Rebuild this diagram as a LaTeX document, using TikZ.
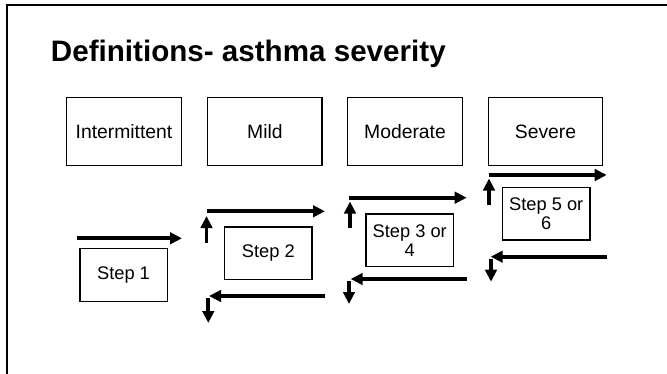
\documentclass[tikz,border=0pt]{standalone}
\usepackage{fontspec}
\setmainfont{Liberation Sans}
\usetikzlibrary{arrows.meta}
\begin{document}
\begin{tikzpicture}[x=0.75pt,y=-0.75pt,
  topbox/.style={draw, line width=1pt, minimum width=85.8pt, minimum height=51.3pt, inner sep=0pt, font=\fontsize{14.5}{16}\selectfont},
  stepbox/.style={draw, line width=1pt, minimum width=65.5pt, minimum height=39.3pt, inner sep=0pt, align=center, font=\fontsize{13.7}{14}\selectfont},
  bigarrow/.style={line width=2.9pt, -{Triangle[length=9pt,width=8.6pt]}},
  frame/.style={line width=1.7pt}
]
\useasboundingbox (0,0) rectangle (667,374);
% slide frame (only top and left edges visible)
\draw[frame] (7.2,374) -- (7.2,4.7) -- (667,4.7);
% title
\node[anchor=base west, inner sep=0pt, font=\fontsize{22.2}{26}\selectfont\bfseries] (title) at (50.7,61.7) {Definitions- asthma severity};
% severity boxes
\node[topbox] (int) at (124,131.5) {Intermittent};
\node[topbox] (mild) at (264.9,131.5) {Mild};
\node[topbox] (mod) at (405,131.5) {Moderate};
\node[topbox] (sev) at (545.5,131.5) {Severe};
% step boxes
\node[stepbox] (s1) at (123.5,275) {Step 1};
\node[stepbox] (s2) at (268.3,253.3) {Step 2};
\node[stepbox] (s3) at (409.7,240.3) {Step 3 or\\4};
\node[stepbox] (s5) at (546.2,213.7) {Step 5 or\\6};
% arrow end points
\coordinate (a1s) at (77,238.3);   \coordinate (a1e) at (182,238.3);
\coordinate (bus) at (206.5,243);  \coordinate (bue) at (206.5,216);
\coordinate (brs) at (207,211.3);  \coordinate (bre) at (325,211.3);
\coordinate (bls) at (325,296);    \coordinate (ble) at (209,296);
\coordinate (bds) at (208.3,298);  \coordinate (bde) at (208.3,323);
\coordinate (cus) at (350,227.7);  \coordinate (cue) at (350,201.5);
\coordinate (crs) at (349,197.7);  \coordinate (cre) at (466.7,197.7);
\coordinate (cls) at (466.7,279);  \coordinate (cle) at (350.7,279);
\coordinate (cds) at (349,281);    \coordinate (cde) at (349,304);
\coordinate (dus) at (489,205);    \coordinate (due) at (489,178.5);
\coordinate (drs) at (488.7,175);  \coordinate (dre) at (606.7,175);
\coordinate (dls) at (606.7,256.7);\coordinate (dle) at (490.7,256.7);
\coordinate (dds) at (491,259);    \coordinate (dde) at (491,281.7);
% arrows
\draw[bigarrow] (a1s) -- (a1e);
\draw[bigarrow] (bus) -- (bue);
\draw[bigarrow] (brs) -- (bre);
\draw[bigarrow] (bls) -- (ble);
\draw[bigarrow] (bds) -- (bde);
\draw[bigarrow] (cus) -- (cue);
\draw[bigarrow] (crs) -- (cre);
\draw[bigarrow] (cls) -- (cle);
\draw[bigarrow] (cds) -- (cde);
\draw[bigarrow] (dus) -- (due);
\draw[bigarrow] (drs) -- (dre);
\draw[bigarrow] (dls) -- (dle);
\draw[bigarrow] (dds) -- (dde);
\end{tikzpicture}
\end{document}
